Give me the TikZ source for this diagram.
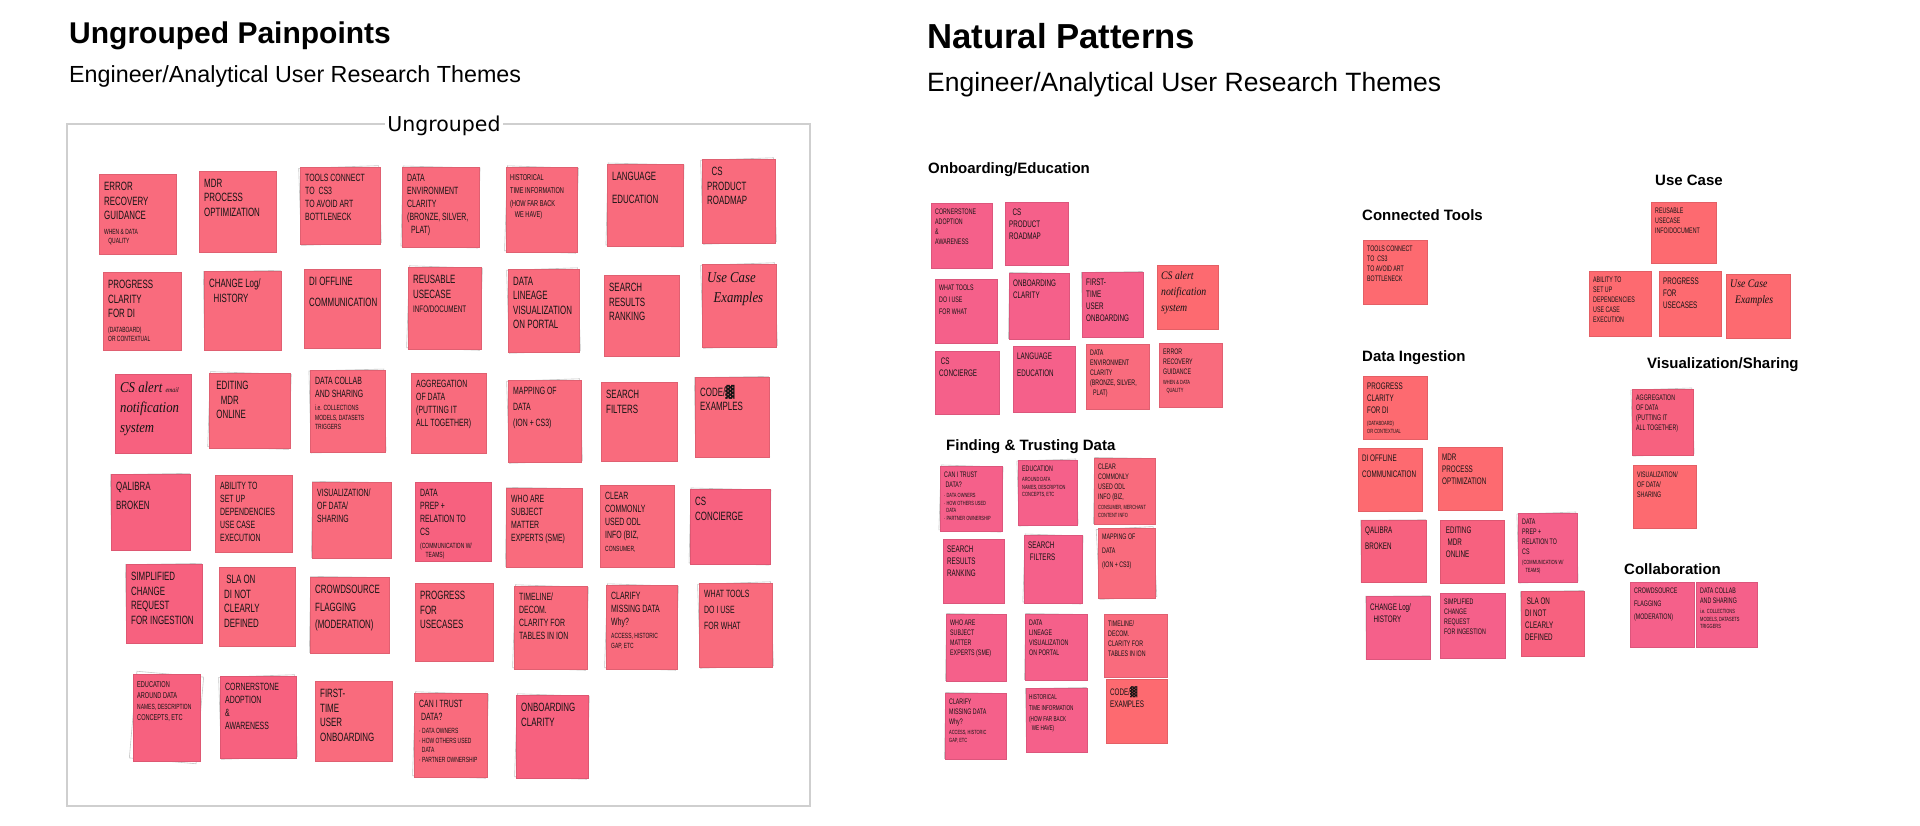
\documentclass[tikz,border=0pt]{standalone}
\usepackage{fontspec}
\setmainfont{Liberation Sans}
\newfontfamily\hand[FakeStretch=0.66]{Liberation Sans}
\newfontfamily\cur[FakeStretch=0.85]{Liberation Serif}
\newfontfamily\lblfont{DejaVu Sans}
\newfontfamily\djv{DejaVu Sans}
\definecolor{pA}{HTML}{F96B7D}
\definecolor{pM}{HTML}{F5608A}
\definecolor{pC}{HTML}{FD6A70}
\definecolor{pD}{HTML}{F7617F}
\definecolor{framegray}{HTML}{CFCFCF}
\newcommand\sbL[1]{{\fontsize{7.5}{9.5}\selectfont\begin{tabular}[t]{@{}l@{}}#1\end{tabular}}}
\newcommand\sbR[1]{{\fontsize{6}{7.5}\selectfont\begin{tabular}[t]{@{}l@{}}#1\end{tabular}}}
\newcommand\stk[9][]{%
  \def\stkang{#1}%
  \ifx\stkang\empty\else
    \draw[paperline] [rotate around={#1:({(#3+#5)/2},{(#4+#6)/2})}] (#3,#4) rectangle (#5,#6);
  \fi
  \node[stickybox=#7, minimum width={(#5-#3)*1pt}, minimum height={(#6-#4)*1pt}] (#2) at (#3,#4) {};
  \node[#8] (#2-t) at (#2.north west) {#9};
}
\begin{document}
\begin{tikzpicture}[x=1pt,y=-1pt,
  stickybox/.style={fill=#1, draw=#1!90!black, line width=0.4pt, inner sep=0pt, anchor=north west},
  paperline/.style={draw=black!22, line width=0.6pt},
  handbase/.style={align=left, inner sep=0pt, anchor=north west, text=black!92},
  hL/.style={handbase, font=\hand\fontsize{12}{14.5}\selectfont, xshift=5pt, yshift=-8pt},
  hLs/.style={handbase, font=\hand\fontsize{10.5}{13}\selectfont, xshift=5pt, yshift=-7pt},
  hLxs/.style={handbase, font=\hand\fontsize{8.5}{11}\selectfont, xshift=4pt, yshift=-7pt},
  hR/.style={handbase, font=\hand\fontsize{9.5}{12}\selectfont, xshift=4pt, yshift=-7pt},
  hRs/.style={handbase, font=\hand\fontsize{8}{10}\selectfont, xshift=4pt, yshift=-6pt},
  hRxs/.style={handbase, font=\hand\fontsize{7}{9}\selectfont, xshift=3pt, yshift=-6pt},
  cL/.style={handbase, font=\cur\itshape\fontsize{15}{20}\selectfont, xshift=5pt, yshift=-8pt},
  cR/.style={handbase, font=\cur\itshape\fontsize{11.5}{16}\selectfont, xshift=4pt, yshift=-6pt},
  title/.style={anchor=base west, inner sep=0pt, font=\bfseries\fontsize{#1}{#1}\selectfont},
  subtitle/.style={anchor=base west, inner sep=0pt, font=\fontsize{#1}{#1}\selectfont},
  heading/.style={anchor=base west, inner sep=0pt, font=\bfseries\fontsize{15}{18}\selectfont}
]
\useasboundingbox[fill=white] (0,0) rectangle (1920,825);

% ---------- titles ----------
\node[title=30] (t1) at (69,43) {Ungrouped Painpoints};
\node[subtitle=23.3] (s1) at (69,82) {Engineer/Analytical User Research Themes};
\node[title=34.7] (t2) at (927,48) {Natural Patterns};
\node[subtitle=26.5] (s2) at (927,91) {Engineer/Analytical User Research Themes};

% ---------- ungrouped frame ----------
\draw[framegray, line width=1.6pt] (67,124) rectangle (810,806);
\node[fill=white, inner xsep=2pt, inner ysep=1pt, anchor=base, font=\lblfont\fontsize{20.5}{24}\selectfont] (ug) at (444,131) {Ungrouped};

% ---------- ungrouped stickies ----------
% row 1
\stk{e1}{99}{174}{176}{254}{pA}{hL}{ERROR\\RECOVERY\\GUIDANCE\\\sbL{WHEN \& DATA\\\ \ \ QUALITY}}
\stk{m1}{199}{171}{276}{252}{pA}{hL}{MDR\\PROCESS\\OPTIMIZATION}
\stk[2]{tc}{300}{167}{380}{244}{pA}{hLs}{TOOLS CONNECT\\TO\ \ CS3\\TO AVOID ART\\BOTTLENECK}
\stk[-1.5]{de}{402}{167}{479}{247}{pA}{hLs}{DATA\\ENVIRONMENT\\CLARITY\\(BRONZE, SILVER,\\\ \ PLAT)}
\stk[-2]{hi}{506}{167}{577}{252}{pA}{hLxs}{HISTORICAL\\[2pt]TIME INFORMATION\\[2pt](HOW FAR BACK\\\ \ \ WE HAVE)}
\stk[-1.5]{la}{607}{164}{683}{246}{pA}{hL}{LANGUAGE\\[8pt]EDUCATION}
\stk[2]{cp}{702}{159}{775}{243}{pA}{hL}{\ \ CS\\PRODUCT\\ROADMAP}
% row 2
\stk{pc}{103}{272}{181}{350}{pA}{hL}{PROGRESS\\CLARITY\\FOR DI\\\sbL{(DATABOARD)\\OR CONTEXTUAL}}
\stk[1]{cl}{204}{271}{281}{350}{pA}{hL}{CHANGE Log/\\\ \ HISTORY}
\stk{di}{304}{269}{380}{348}{pA}{hL}{DI OFFLINE\\[6pt]COMMUNICATION}
\stk[-2]{ru}{408}{267}{481}{349}{pA}{hL}{REUSABLE\\USECASE\\{\fontsize{9.5}{14.5}\selectfont INFO/DOCUMENT}}
\stk[2]{dl}{508}{269}{579}{352}{pA}{hL}{DATA\\LINEAGE\\VISUALIZATION\\ON PORTAL}
\stk{sr}{604}{275}{679}{356}{pA}{hL}{SEARCH\\RESULTS\\RANKING}
\stk[2]{ue}{702}{264}{776}{347}{pA}{cL}{Use Case\\\ \ Examples}
% row 3
\stk{ca}{115}{374}{191}{453}{pD}{cL}{CS alert {\fontsize{7}{8}\selectfont email}\\notification\\system}
\stk[-2]{em}{209}{373}{290}{448}{pA}{hL}{\ EDITING\\\ \ \ MDR\\\ ONLINE}
\stk[1.5]{dc}{310}{370}{385}{452}{pA}{hLs}{DATA COLLAB\\AND SHARING\\\sbL{i.e. COLLECTIONS\\MODELS, DATASETS\\TRIGGERS}}
\stk{ag}{411}{373}{486}{453}{pA}{hLs}{AGGREGATION\\OF DATA\\(PUTTING IT\\ALL TOGETHER)}
\stk[2]{mp}{508}{380}{581}{462}{pA}{hLs}{MAPPING OF\\[3pt]DATA\\[3pt](ION + CS3)}
\stk{sf}{601}{382}{677}{461}{pA}{hL}{SEARCH\\FILTERS}
\stk[1]{ce}{695}{377}{769}{457}{pA}{hL}{CODE/{\djv ▓}\\EXAMPLES}
% row 4
\stk[1]{qb}{111}{474}{190}{550}{pD}{hL}{QALIBRA\\[4pt]BROKEN}
\stk{ab}{215}{475}{292}{552}{pA}{hLs}{ABILITY TO\\SET UP\\DEPENDENCIES\\USE CASE\\EXECUTION}
\stk[-1]{vs}{312}{482}{391}{558}{pA}{hLs}{VISUALIZATION/\\OF DATA/\\SHARING}
\stk{dp}{415}{482}{491}{561}{pD}{hLs}{DATA\\PREP +\\RELATION TO\\CS\\\sbL{(COMMUNICATION W/\\\ \ \ \ TEAMS)}}
\stk[-1]{wa}{506}{488}{582}{567}{pA}{hLs}{WHO ARE\\SUBJECT\\MATTER\\EXPERTS (SME)}
\stk{cc}{600}{485}{674}{567}{pA}{hLs}{CLEAR\\COMMONLY\\USED ODL\\INFO (BIZ,\\\sbL{CONSUMER,}}
\stk[-1.5]{cs}{690}{489}{770}{564}{pD}{hL}{CS\\CONCIERGE}
% row 5
\stk[1]{si}{126}{564}{202}{643}{pD}{hL}{SIMPLIFIED\\CHANGE\\REQUEST\\FOR INGESTION}
\stk{sl}{219}{567}{295}{646}{pA}{hL}{\ SLA ON\\DI NOT\\CLEARLY\\DEFINED}
\stk[-1]{cr}{310}{577}{389}{653}{pA}{hL}{CROWDSOURCE\\[3pt]FLAGGING\\[3pt](MODERATION)}
\stk{pu}{415}{583}{493}{661}{pA}{hL}{PROGRESS\\FOR\\USECASES}
\stk[-2]{tl}{514}{586}{587}{669}{pA}{hLs}{TIMELINE/\\DECOM.\\CLARITY FOR\\TABLES IN ION}
\stk[-2]{cm}{606}{585}{677}{669}{pA}{hLs}{CLARIFY\\MISSING DATA\\Why?\\\sbL{ACCESS, HISTORIC\\GAP, ETC}}
\stk[2]{wt}{699}{583}{772}{667}{pA}{hLs}{WHAT TOOLS\\[3pt]DO I USE\\[3pt]FOR WHAT}
% row 6
\stk[-5]{ed}{133}{674}{200}{761}{pD}{hLxs}{EDUCATION\\AROUND DATA\\{\fontsize{7.5}{11}\selectfont NAMES, DESCRIPTION}\\CONCEPTS, ETC}
\stk[2]{co}{220}{676}{296}{758}{pD}{hLs}{CORNERSTONE\\ADOPTION\\\&\\AWARENESS}
\stk{ft}{315}{681}{392}{761}{pA}{hL}{FIRST-\\TIME\\USER\\ONBOARDING}
\stk[-2]{ct}{414}{693}{487}{777}{pA}{hLs}{CAN I TRUST\\\ DATA?\\\sbL{· DATA OWNERS\\· HOW OTHERS USED\\\ \ DATA\\· PARTNER OWNERSHIP}}
\stk[-2]{oc}{516}{695}{588}{778}{pD}{hL}{ONBOARDING\\CLARITY}

% ---------- natural patterns headings ----------
\node[heading] (h1) at (928,173) {Onboarding/Education};
\node[heading] (h2) at (946,450) {Finding \& Trusting Data};
\node[heading] (h3) at (1362,220) {Connected Tools};
\node[heading] (h4) at (1362,361) {Data Ingestion};
\node[heading] (h5) at (1655,185) {Use Case};
\node[heading] (h6) at (1647,368) {Visualization/Sharing};
\node[heading] (h7) at (1624,574) {Collaboration};

% ---------- onboarding / education ----------
\stk{r-co}{931}{203}{992}{268}{pM}{hRs}{CORNERSTONE\\ADOPTION\\\&\\AWARENESS}
\stk{r-cp}{1005}{202}{1068}{265}{pM}{hR}{\ \ CS\\PRODUCT\\ROADMAP}
\stk{r-wt}{935}{279}{997}{343}{pM}{hRs}{WHAT TOOLS\\[2pt]DO I USE\\[2pt]FOR WHAT}
\stk[-1]{r-oc}{1009}{273}{1069}{339}{pM}{hR}{ONBOARDING\\CLARITY}
\stk[1]{r-ft}{1082}{272}{1143}{337}{pM}{hR}{FIRST-\\TIME\\USER\\ONBOARDING}
\stk{r-ca}{1157}{265}{1218}{329}{pC}{cR}{CS alert\\notification\\system}
\stk{r-cs}{935}{351}{999}{414}{pM}{hR}{\ CS\\CONCIERGE}
\stk{r-la}{1013}{346}{1075}{412}{pM}{hR}{LANGUAGE\\[5pt]EDUCATION}
\stk{r-de}{1086}{344}{1149}{409}{pA}{hRs}{DATA\\ENVIRONMENT\\CLARITY\\(BRONZE, SILVER,\\\ \ PLAT)}
\stk{r-er}{1159}{343}{1222}{407}{pA}{hRs}{ERROR\\RECOVERY\\GUIDANCE\\\sbR{WHEN \& DATA\\\ \ \ QUALITY}}

% ---------- finding & trusting data ----------
\stk[-2]{r-ct}{940}{466}{1002}{531}{pM}{hRs}{CAN I TRUST\\\ DATA?\\\sbR{· DATA OWNERS\\· HOW OTHERS USED\\\ \ DATA\\· PARTNER OWNERSHIP}}
\stk[2]{r-ed}{1018}{460}{1077}{525}{pM}{hRs}{EDUCATION\\\sbR{AROUND DATA\\NAMES, DESCRIPTION\\CONCEPTS, ETC}}
\stk[-1]{r-cc}{1094}{458}{1155}{524}{pA}{hRs}{CLEAR\\COMMONLY\\USED ODL\\INFO (BIZ,\\\sbR{CONSUMER, MERCHANT\\CONTENT INFO}}
\stk{r-sr}{943}{539}{1004}{603}{pM}{hR}{SEARCH\\RESULTS\\RANKING}
\stk[-2]{r-sf}{1024}{535}{1082}{603}{pM}{hR}{SEARCH\\\ FILTERS}
\stk[3]{r-mp}{1098}{528}{1155}{598}{pA}{hRs}{MAPPING OF\\[4pt]DATA\\[4pt](ION + CS3)}
\stk[-1]{r-wa}{946}{614}{1006}{681}{pM}{hRs}{WHO ARE\\SUBJECT\\MATTER\\EXPERTS (SME)}
\stk[-1]{r-dl}{1025}{614}{1087}{680}{pM}{hRs}{DATA\\LINEAGE\\VISUALIZATION\\ON PORTAL}
\stk{r-tl}{1104}{614}{1167}{677}{pA}{hRs}{TIMELINE/\\DECOM.\\CLARITY FOR\\TABLES IN ION}
\stk[-1]{r-cm}{945}{693}{1006}{759}{pM}{hRs}{CLARIFY\\MISSING DATA\\Why?\\\sbR{ACCESS, HISTORIC\\GAP, ETC}}
\stk[1]{r-hi}{1026}{688}{1087}{752}{pM}{hRxs}{HISTORICAL\\[2pt]TIME INFORMATION\\[2pt](HOW FAR BACK\\\ \ WE HAVE)}
\stk{r-ce}{1106}{679}{1167}{743}{pC}{hR}{CODE/{\djv ▓}\\EXAMPLES}

% ---------- connected tools ----------
\stk{r-tc}{1363}{240}{1427}{304}{pC}{hRs}{TOOLS CONNECT\\TO\ \ CS3\\TO AVOID ART\\BOTTLENECK}

% ---------- data ingestion ----------
\stk{r-pc}{1363}{376}{1427}{439}{pC}{hR}{PROGRESS\\CLARITY\\FOR DI\\\sbR{(DATABOARD)\\OR CONTEXTUAL}}
\stk{r-di}{1358}{448}{1422}{511}{pC}{hR}{DI OFFLINE\\[4pt]COMMUNICATION}
\stk{r-md}{1438}{447}{1502}{510}{pC}{hR}{MDR\\PROCESS\\OPTIMIZATION}
\stk[0.5]{r-qb}{1361}{520}{1426}{582}{pD}{hR}{QALIBRA\\[4pt]BROKEN}
\stk{r-em}{1440}{520}{1504}{583}{pD}{hR}{\ EDITING\\\ \ MDR\\\ ONLINE}
\stk[2]{r-dp}{1518}{513}{1577}{582}{pM}{hRs}{DATA\\PREP +\\RELATION TO\\CS\\\sbR{(COMMUNICATION W/\\\ \ \ TEAMS)}}
\stk[0.5]{r-cl}{1366}{596}{1430}{659}{pM}{hR}{CHANGE Log/\\\ \ HISTORY}
\stk{r-si}{1440}{593}{1505}{658}{pM}{hRs}{SIMPLIFIED\\CHANGE\\REQUEST\\FOR INGESTION}
\stk[1]{r-sl}{1521}{591}{1584}{656}{pD}{hR}{\ SLA ON\\DI NOT\\CLEARLY\\DEFINED}

% ---------- use case ----------
\stk{r-ru}{1651}{202}{1716}{263}{pC}{hRs}{REUSABLE\\USECASE\\INFO/DOCUMENT}
\stk{r-ab}{1589}{271}{1651}{336}{pC}{hRs}{ABILITY TO\\SET UP\\DEPENDENCIES\\USE CASE\\EXECUTION}
\stk{r-pu}{1659}{271}{1721}{336}{pC}{hR}{PROGRESS\\FOR\\USECASES}
\stk{r-ue}{1726}{274}{1790}{338}{pC}{cR}{Use Case\\\ \ Examples}

% ---------- visualization / sharing ----------
\stk[2]{r-ag}{1632}{389}{1693}{455}{pD}{hRs}{AGGREGATION\\OF DATA\\(PUTTING IT\\ALL TOGETHER)}
\stk{r-vs}{1633}{465}{1696}{528}{pC}{hRs}{VISUALIZATION/\\OF DATA/\\SHARING}

% ---------- collaboration ----------
\stk{r-cr}{1630}{582}{1694}{647}{pM}{hRs}{CROWDSOURCE\\[3pt]FLAGGING\\[3pt](MODERATION)}
\stk{r-dc}{1696}{582}{1757}{647}{pM}{hRs}{DATA COLLAB\\AND SHARING\\\sbR{i.e. COLLECTIONS\\MODELS, DATASETS\\TRIGGERS}}
\end{tikzpicture}
\end{document}
